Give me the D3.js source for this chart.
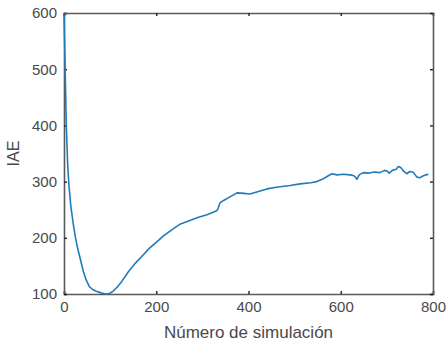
<!DOCTYPE html>
<html>
<head>
<meta charset="utf-8">
<script src="https://cdn.jsdelivr.net/npm/d3@7"></script>
<style>
  body { margin: 0; background: #fff; }
  text { font-family: "Liberation Sans", Arial, sans-serif; }
</style>
</head>
<body>
<div id="vis"></div>
<script>
// simulation number vs IAE
const sims = [0,3,5,8,11,15,20,25,30,36,42,48,55,62,70,80,90,98,105,115,125,140,155,170,186,200,215,235,251,270,290,310,331,334,338,345,358,375,390,403,420,440,460,490,512,535,548,560,572,581,592,605,620,627,632,635,640,649,660,672,685,695,700,705,712,720,725,730,737,743,750,758,765,772,778,785,790];
const iae  = [600,480,400,330,290,255,225,200,180,160,140,125,113,108,105,102,100,101,104,112,122,140,155,168,182,192,203,215,224,230,236,241,248,252,262,266,272,280,279,278,282,287,290,293,296,298,300,304,310,314,312,313,312,311,308,304,312,316,315,317,316,320,319,315,320,322,327,325,318,314,318,316,308,307,310,312,313];
const xTicks = [0,200,400,600,800];
const yTicks = [100,200,300,400,500,600];

const width = 446, height = 351;
const margin = {left: 64, right: 13, top: 13, bottom: 57};

const svg = d3.select("#vis").append("svg")
    .attr("width", width)
    .attr("height", height);

const x = d3.scaleLinear().domain([0, 800]).range([margin.left, width - margin.right]);
const y = d3.scaleLinear().domain([100, 600]).range([height - margin.bottom, margin.top]);

const axisColor = "#5a5a5a";

// bottom & left axes with labels, ticks pointing inward
const gx = svg.append("g")
    .attr("transform", "translate(0," + (height - margin.bottom) + ")")
    .call(d3.axisBottom(x).tickValues(xTicks).tickSize(-3).tickPadding(7).tickFormat(d3.format("d")));
const gy = svg.append("g")
    .attr("transform", "translate(" + margin.left + ",0)")
    .call(d3.axisLeft(y).tickValues(yTicks).tickSize(-3).tickPadding(7).tickFormat(d3.format("d")));
// top & right mirror ticks
const gt = svg.append("g")
    .attr("transform", "translate(0," + margin.top + ")")
    .call(d3.axisTop(x).tickValues(xTicks).tickSize(-3).tickFormat(""));
const gr = svg.append("g")
    .attr("transform", "translate(" + (width - margin.right) + ",0)")
    .call(d3.axisRight(y).tickValues(yTicks).tickSize(-3).tickFormat(""));

[gx, gy, gt, gr].forEach(function(g){
  g.selectAll(".domain").attr("stroke", axisColor).attr("stroke-width", 1.6);
  g.selectAll(".tick line").attr("stroke", "#222").attr("stroke-width", 1.4);
  g.selectAll(".tick text").attr("fill", "#4a4a4a").style("font-size", "15px");
});

const line = d3.line()
    .x(function(d, i){ return x(sims[i]); })
    .y(function(d){ return y(d); });

svg.append("path")
    .datum(iae)
    .attr("fill", "none")
    .attr("stroke", "#1f7bbb")
    .attr("stroke-width", 1.6)
    .attr("stroke-linejoin", "round")
    .attr("d", line);

svg.append("text")
    .attr("x", (margin.left + width - margin.right) / 2)
    .attr("y", 338)
    .attr("text-anchor", "middle")
    .attr("fill", "#4a4a4a")
    .style("font-size", "17px")
    .text("Número de simulación");

svg.append("text")
    .attr("transform", "translate(19," + ((margin.top + height - margin.bottom) / 2) + ")rotate(-90)")
    .attr("text-anchor", "middle")
    .attr("fill", "#4a4a4a")
    .style("font-size", "16px")
    .text("IAE");
</script>
</body>
</html>
